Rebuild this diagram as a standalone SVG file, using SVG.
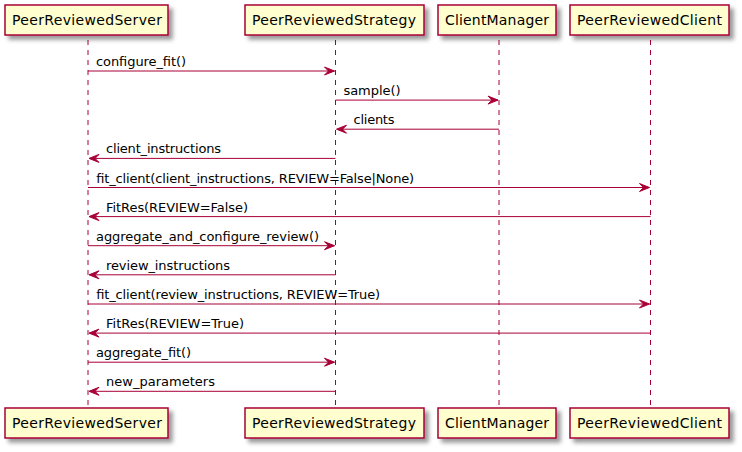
<svg xmlns="http://www.w3.org/2000/svg" width="742" height="452" viewBox="0 0 742 452">
<defs>
<filter id="sh" x="-1" y="-1" width="300%" height="300%">
<feGaussianBlur result="blurOut" stdDeviation="2"/>
<feColorMatrix in="blurOut" result="blurOut2" type="matrix" values="0 0 0 0 0 0 0 0 0 0 0 0 0 0 0 0 0 0 .4 0"/>
<feOffset dx="4" dy="4" in="blurOut2" result="blurOut3"/>
<feBlend in="SourceGraphic" in2="blurOut3" mode="normal"/>
</filter>
<style>
.box{fill:#FEFECE;stroke:#A80036;stroke-width:1.5;filter:url(#sh);}
.pt{font-family:"DejaVu Sans",sans-serif;font-size:14px;fill:#000;}
.life{stroke:#A80036;stroke-width:1;stroke-dasharray:5,5;fill:none;}
.msg{stroke:#A80036;stroke-width:1;fill:none;}
.ah{fill:#A80036;stroke:#A80036;stroke-width:1;}
.mt{font-family:"DejaVu Sans",sans-serif;font-size:13px;fill:#000;}
</style>
</defs>
<rect width="742" height="452" fill="#FFFFFF"/>
<g id="lifelines">
<line class="life" x1="88" y1="40" x2="88" y2="408"/>
<line class="life" x1="335.5" y1="40" x2="335.5" y2="408"/>
<line class="life" x1="499" y1="40" x2="499" y2="408"/>
<line class="life" x1="650.5" y1="40" x2="650.5" y2="408"/>
</g>
<g id="PeerReviewedServer">
<rect class="box" x="5" y="5" width="163" height="30"/>
<text class="pt" x="12" y="25" textLength="150" lengthAdjust="spacing">PeerReviewedServer</text>
<rect class="box" x="5" y="408" width="163" height="30"/>
<text class="pt" x="12" y="428" textLength="150" lengthAdjust="spacing">PeerReviewedServer</text>
</g>
<g id="PeerReviewedStrategy">
<rect class="box" x="245" y="5" width="179" height="30"/>
<text class="pt" x="252" y="25" textLength="164" lengthAdjust="spacing">PeerReviewedStrategy</text>
<rect class="box" x="245" y="408" width="179" height="30"/>
<text class="pt" x="252" y="428" textLength="164" lengthAdjust="spacing">PeerReviewedStrategy</text>
</g>
<g id="ClientManager">
<rect class="box" x="438" y="5" width="118" height="30"/>
<text class="pt" x="445" y="25" textLength="104" lengthAdjust="spacing">ClientManager</text>
<rect class="box" x="438" y="408" width="118" height="30"/>
<text class="pt" x="445" y="428" textLength="104" lengthAdjust="spacing">ClientManager</text>
</g>
<g id="PeerReviewedClient">
<rect class="box" x="570" y="5" width="159" height="30"/>
<text class="pt" x="577" y="25" textLength="145" lengthAdjust="spacing">PeerReviewedClient</text>
<rect class="box" x="570" y="408" width="159" height="30"/>
<text class="pt" x="577" y="428" textLength="145" lengthAdjust="spacing">PeerReviewedClient</text>
</g>
<g id="connectors">
<line class="msg" x1="88" y1="71" x2="334.5" y2="71"/>
<polygon class="ah" points="324.5,67 334.5,71 324.5,75 328.5,71"/>
<text class="mt" x="96" y="66" textLength="90" lengthAdjust="spacing">configure_fit()</text>

<line class="msg" x1="335.5" y1="100.1" x2="498" y2="100.1"/>
<polygon class="ah" points="488,96.1 498,100.1 488,104.1 492,100.1"/>
<text class="mt" x="343.5" y="95.1" textLength="57" lengthAdjust="spacing">sample()</text>

<line class="msg" x1="337.5" y1="129.2" x2="499" y2="129.2"/>
<polygon class="ah" points="346.5,125.2 336.5,129.2 346.5,133.2 342.5,129.2"/>
<text class="mt" x="353.5" y="124.2" textLength="41" lengthAdjust="spacing">clients</text>

<line class="msg" x1="90" y1="158.4" x2="335.5" y2="158.4"/>
<polygon class="ah" points="99,154.4 89,158.4 99,162.4 95,158.4"/>
<text class="mt" x="106" y="153.4" textLength="115" lengthAdjust="spacing">client_instructions</text>

<line class="msg" x1="88" y1="187.5" x2="649.5" y2="187.5"/>
<polygon class="ah" points="639.5,183.5 649.5,187.5 639.5,191.5 643.5,187.5"/>
<text class="mt" x="96" y="182.5" textLength="318" lengthAdjust="spacing">fit_client(client_instructions, REVIEW=False|None)</text>

<line class="msg" x1="90" y1="216.6" x2="650.5" y2="216.6"/>
<polygon class="ah" points="99,212.6 89,216.6 99,220.6 95,216.6"/>
<text class="mt" x="106" y="211.6" textLength="142" lengthAdjust="spacing">FitRes(REVIEW=False)</text>

<line class="msg" x1="88" y1="245.7" x2="334.5" y2="245.7"/>
<polygon class="ah" points="324.5,241.7 334.5,245.7 324.5,249.7 328.5,245.7"/>
<text class="mt" x="96" y="240.7" textLength="223" lengthAdjust="spacing">aggregate_and_configure_review()</text>

<line class="msg" x1="90" y1="274.8" x2="335.5" y2="274.8"/>
<polygon class="ah" points="99,270.8 89,274.8 99,278.8 95,274.8"/>
<text class="mt" x="106" y="269.8" textLength="124" lengthAdjust="spacing">review_instructions</text>

<line class="msg" x1="88" y1="304" x2="649.5" y2="304"/>
<polygon class="ah" points="639.5,300 649.5,304 639.5,308 643.5,304"/>
<text class="mt" x="96" y="299" textLength="284" lengthAdjust="spacing">fit_client(review_instructions, REVIEW=True)</text>

<line class="msg" x1="90" y1="333.1" x2="650.5" y2="333.1"/>
<polygon class="ah" points="99,329.1 89,333.1 99,337.1 95,333.1"/>
<text class="mt" x="106" y="328.1" textLength="138" lengthAdjust="spacing">FitRes(REVIEW=True)</text>

<line class="msg" x1="88" y1="362.2" x2="334.5" y2="362.2"/>
<polygon class="ah" points="324.5,358.2 334.5,362.2 324.5,366.2 328.5,362.2"/>
<text class="mt" x="96" y="357.2" textLength="95" lengthAdjust="spacing">aggregate_fit()</text>

<line class="msg" x1="90" y1="391.3" x2="335.5" y2="391.3"/>
<polygon class="ah" points="99,387.3 89,391.3 99,395.3 95,391.3"/>
<text class="mt" x="106" y="386.3" textLength="109" lengthAdjust="spacing">new_parameters</text>
</g>
</svg>
